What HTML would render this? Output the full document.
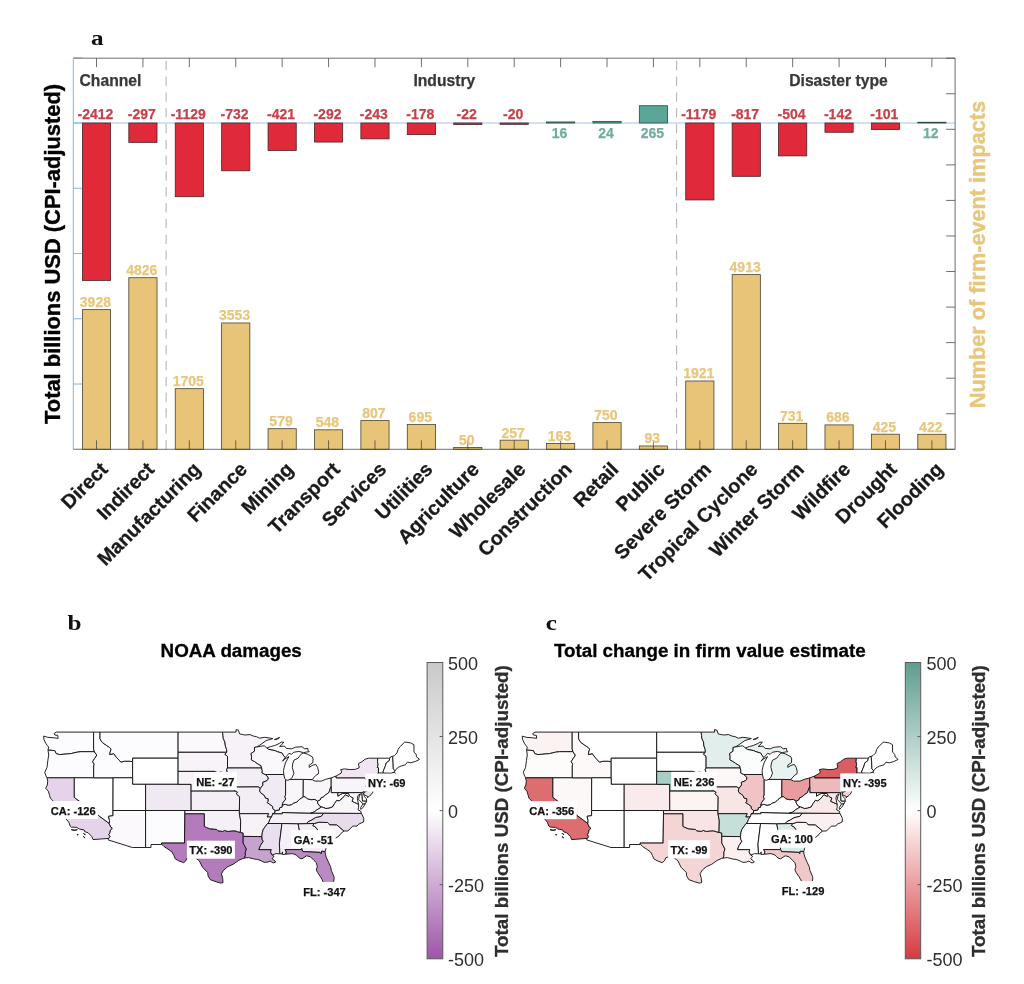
<!DOCTYPE html>
<html lang="en">
<head>
<meta charset="utf-8">
<title>Firm value impacts of disasters</title>
<style>
html,body{margin:0;padding:0;background:#fff;}
body{width:1024px;height:984px;overflow:hidden;font-family:"Liberation Sans",Arial,Helvetica,sans-serif;}
svg{display:block;}
svg text{font-family:"Liberation Sans",Arial,Helvetica,sans-serif;}
svg .pl text{font-family:"Liberation Serif","Times New Roman",serif;}
</style>
</head>
<body>
<svg width="1024" height="984" viewBox="0 0 1024 984">
<rect width="1024" height="984" fill="#fff"/>
<g id="panel-a">
<line x1="166.12" y1="449.3" x2="166.12" y2="58.2" stroke="#adadad" stroke-width="1" stroke-dasharray="9.3 6.5" stroke-dashoffset="0"/>
<line x1="676.64" y1="449.3" x2="676.64" y2="58.2" stroke="#adadad" stroke-width="1" stroke-dasharray="9.3 6.5" stroke-dashoffset="0"/>
<rect x="82.41" y="309.64" width="28.2" height="139.66" fill="#e8c478" stroke="#4a4230" stroke-width="0.8"/>
<rect x="128.82" y="277.71" width="28.2" height="171.59" fill="#e8c478" stroke="#4a4230" stroke-width="0.8"/>
<rect x="175.23" y="388.68" width="28.2" height="60.62" fill="#e8c478" stroke="#4a4230" stroke-width="0.8"/>
<rect x="221.64" y="322.97" width="28.2" height="126.33" fill="#e8c478" stroke="#4a4230" stroke-width="0.8"/>
<rect x="268.05" y="428.71" width="28.2" height="20.59" fill="#e8c478" stroke="#4a4230" stroke-width="0.8"/>
<rect x="314.46" y="429.82" width="28.2" height="19.48" fill="#e8c478" stroke="#4a4230" stroke-width="0.8"/>
<rect x="360.87" y="420.61" width="28.2" height="28.69" fill="#e8c478" stroke="#4a4230" stroke-width="0.8"/>
<rect x="407.28" y="424.59" width="28.2" height="24.71" fill="#e8c478" stroke="#4a4230" stroke-width="0.8"/>
<rect x="453.69" y="447.52" width="28.2" height="1.78" fill="#e8c478" stroke="#4a4230" stroke-width="0.8"/>
<rect x="500.1" y="440.16" width="28.2" height="9.14" fill="#e8c478" stroke="#4a4230" stroke-width="0.8"/>
<rect x="546.51" y="443.5" width="28.2" height="5.8" fill="#e8c478" stroke="#4a4230" stroke-width="0.8"/>
<rect x="592.92" y="422.63" width="28.2" height="26.67" fill="#e8c478" stroke="#4a4230" stroke-width="0.8"/>
<rect x="639.33" y="445.99" width="28.2" height="3.31" fill="#e8c478" stroke="#4a4230" stroke-width="0.8"/>
<rect x="685.74" y="381" width="28.2" height="68.3" fill="#e8c478" stroke="#4a4230" stroke-width="0.8"/>
<rect x="732.15" y="274.62" width="28.2" height="174.68" fill="#e8c478" stroke="#4a4230" stroke-width="0.8"/>
<rect x="778.56" y="423.31" width="28.2" height="25.99" fill="#e8c478" stroke="#4a4230" stroke-width="0.8"/>
<rect x="824.97" y="424.91" width="28.2" height="24.39" fill="#e8c478" stroke="#4a4230" stroke-width="0.8"/>
<rect x="871.38" y="434.19" width="28.2" height="15.11" fill="#e8c478" stroke="#4a4230" stroke-width="0.8"/>
<rect x="917.79" y="434.3" width="28.2" height="15" fill="#e8c478" stroke="#4a4230" stroke-width="0.8"/>
<line x1="73.3" y1="123" x2="955.1" y2="123" stroke="#a6c3e0" stroke-width="1"/>
<rect x="82.41" y="123" width="28.2" height="157.41" fill="#e02a3a" stroke="#4a2226" stroke-width="0.8"/>
<rect x="128.82" y="123" width="28.2" height="19.38" fill="#e02a3a" stroke="#4a2226" stroke-width="0.8"/>
<rect x="175.23" y="123" width="28.2" height="73.68" fill="#e02a3a" stroke="#4a2226" stroke-width="0.8"/>
<rect x="221.64" y="123" width="28.2" height="47.77" fill="#e02a3a" stroke="#4a2226" stroke-width="0.8"/>
<rect x="268.05" y="123" width="28.2" height="27.47" fill="#e02a3a" stroke="#4a2226" stroke-width="0.8"/>
<rect x="314.46" y="123" width="28.2" height="19.06" fill="#e02a3a" stroke="#4a2226" stroke-width="0.8"/>
<rect x="360.87" y="123" width="28.2" height="15.86" fill="#e02a3a" stroke="#4a2226" stroke-width="0.8"/>
<rect x="407.28" y="123" width="28.2" height="11.62" fill="#e02a3a" stroke="#4a2226" stroke-width="0.8"/>
<rect x="453.69" y="123" width="28.2" height="1.44" fill="#e02a3a" stroke="#4a2226" stroke-width="0.8"/>
<rect x="500.1" y="123" width="28.2" height="1.31" fill="#e02a3a" stroke="#4a2226" stroke-width="0.8"/>
<rect x="546.51" y="121.96" width="28.2" height="1.04" fill="#5aa797" stroke="#2f4a45" stroke-width="0.8"/>
<rect x="592.92" y="121.43" width="28.2" height="1.57" fill="#5aa797" stroke="#2f4a45" stroke-width="0.8"/>
<rect x="639.33" y="105.71" width="28.2" height="17.29" fill="#5aa797" stroke="#2f4a45" stroke-width="0.8"/>
<rect x="685.74" y="123" width="28.2" height="76.94" fill="#e02a3a" stroke="#4a2226" stroke-width="0.8"/>
<rect x="732.15" y="123" width="28.2" height="53.32" fill="#e02a3a" stroke="#4a2226" stroke-width="0.8"/>
<rect x="778.56" y="123" width="28.2" height="32.89" fill="#e02a3a" stroke="#4a2226" stroke-width="0.8"/>
<rect x="824.97" y="123" width="28.2" height="9.27" fill="#e02a3a" stroke="#4a2226" stroke-width="0.8"/>
<rect x="871.38" y="123" width="28.2" height="6.59" fill="#e02a3a" stroke="#4a2226" stroke-width="0.8"/>
<rect x="917.79" y="122.22" width="28.2" height="0.78" fill="#5aa797" stroke="#2f4a45" stroke-width="0.8"/>
<g stroke="#404040" stroke-width="0.75" fill="none">
<path d="M73.3 58.2H955.1V449.3H73.3"/>
<path d="M96.51 58.2v9M96.51 449.3v-9M142.92 58.2v9M142.92 449.3v-9M189.33 58.2v9M189.33 449.3v-9M235.74 58.2v9M235.74 449.3v-9M282.15 58.2v9M282.15 449.3v-9M328.56 58.2v9M328.56 449.3v-9M374.97 58.2v9M374.97 449.3v-9M421.38 58.2v9M421.38 449.3v-9M467.79 58.2v9M467.79 449.3v-9M514.2 58.2v9M514.2 449.3v-9M560.61 58.2v9M560.61 449.3v-9M607.02 58.2v9M607.02 449.3v-9M653.43 58.2v9M653.43 449.3v-9M699.84 58.2v9M699.84 449.3v-9M746.25 58.2v9M746.25 449.3v-9M792.66 58.2v9M792.66 449.3v-9M839.07 58.2v9M839.07 449.3v-9M885.48 58.2v9M885.48 449.3v-9M931.89 58.2v9M931.89 449.3v-9M955.1 449.3h-9M955.1 413.75h-9M955.1 378.19h-9M955.1 342.64h-9M955.1 307.08h-9M955.1 271.53h-9M955.1 235.97h-9M955.1 200.42h-9M955.1 164.86h-9M955.1 129.31h-9M955.1 93.75h-9M955.1 58.2h-9"/>
</g>
<g stroke="#6f9fd8" stroke-width="0.8" fill="none">
<path d="M73.3 58.2V449.3M73.3 449.3h9M73.3 384.04h9M73.3 318.78h9M73.3 253.52h9M73.3 188.26h9M73.3 123h9M73.3 57.74h9"/>
</g>
<g font-size="14" font-weight="bold" text-anchor="middle" stroke-width="0.25">
<text x="95.41" y="119" fill="#c8404a" stroke="#c8404a">-2412</text>
<text x="141.82" y="119" fill="#c8404a" stroke="#c8404a">-297</text>
<text x="188.23" y="119" fill="#c8404a" stroke="#c8404a">-1129</text>
<text x="234.64" y="119" fill="#c8404a" stroke="#c8404a">-732</text>
<text x="281.05" y="119" fill="#c8404a" stroke="#c8404a">-421</text>
<text x="327.46" y="119" fill="#c8404a" stroke="#c8404a">-292</text>
<text x="373.87" y="119" fill="#c8404a" stroke="#c8404a">-243</text>
<text x="420.28" y="119" fill="#c8404a" stroke="#c8404a">-178</text>
<text x="466.69" y="119" fill="#c8404a" stroke="#c8404a">-22</text>
<text x="513.1" y="119" fill="#c8404a" stroke="#c8404a">-20</text>
<text x="559.51" y="137.8" fill="#6fae9f" stroke="#6fae9f">16</text>
<text x="605.92" y="137.8" fill="#6fae9f" stroke="#6fae9f">24</text>
<text x="652.33" y="137.8" fill="#6fae9f" stroke="#6fae9f">265</text>
<text x="698.74" y="119" fill="#c8404a" stroke="#c8404a">-1179</text>
<text x="745.15" y="119" fill="#c8404a" stroke="#c8404a">-817</text>
<text x="791.56" y="119" fill="#c8404a" stroke="#c8404a">-504</text>
<text x="837.97" y="119" fill="#c8404a" stroke="#c8404a">-142</text>
<text x="884.38" y="119" fill="#c8404a" stroke="#c8404a">-101</text>
<text x="930.79" y="137.8" fill="#6fae9f" stroke="#6fae9f">12</text>
<text x="95.41" y="307.04" fill="#e8c67c" stroke="#e8c67c">3928</text>
<text x="141.82" y="275.11" fill="#e8c67c" stroke="#e8c67c">4826</text>
<text x="188.23" y="386.08" fill="#e8c67c" stroke="#e8c67c">1705</text>
<text x="234.64" y="320.37" fill="#e8c67c" stroke="#e8c67c">3553</text>
<text x="281.05" y="426.11" fill="#e8c67c" stroke="#e8c67c">579</text>
<text x="327.46" y="427.22" fill="#e8c67c" stroke="#e8c67c">548</text>
<text x="373.87" y="418.01" fill="#e8c67c" stroke="#e8c67c">807</text>
<text x="420.28" y="421.99" fill="#e8c67c" stroke="#e8c67c">695</text>
<text x="466.69" y="444.92" fill="#e8c67c" stroke="#e8c67c">50</text>
<text x="513.1" y="437.56" fill="#e8c67c" stroke="#e8c67c">257</text>
<text x="559.51" y="440.9" fill="#e8c67c" stroke="#e8c67c">163</text>
<text x="605.92" y="420.03" fill="#e8c67c" stroke="#e8c67c">750</text>
<text x="652.33" y="443.39" fill="#e8c67c" stroke="#e8c67c">93</text>
<text x="698.74" y="378.4" fill="#e8c67c" stroke="#e8c67c">1921</text>
<text x="745.15" y="272.02" fill="#e8c67c" stroke="#e8c67c">4913</text>
<text x="791.56" y="420.71" fill="#e8c67c" stroke="#e8c67c">731</text>
<text x="837.97" y="422.31" fill="#e8c67c" stroke="#e8c67c">686</text>
<text x="884.38" y="431.59" fill="#e8c67c" stroke="#e8c67c">425</text>
<text x="930.79" y="431.7" fill="#e8c67c" stroke="#e8c67c">422</text>
</g>
<g font-size="15.7" font-weight="bold" fill="#383838" stroke="#383838" stroke-width="0.25">
<text x="79.5" y="86">Channel</text>
<text x="413.4" y="86">Industry</text>
<text x="789.2" y="86">Disaster type</text>
</g>
<g font-size="19.8" font-weight="bold" fill="#1a1a1a" stroke="#1a1a1a" stroke-width="0.3" text-anchor="end">
<text transform="translate(109.01 470.5) rotate(-45)">Direct</text>
<text transform="translate(155.42 470.5) rotate(-45)">Indirect</text>
<text transform="translate(201.83 470.5) rotate(-45)">Manufacturing</text>
<text transform="translate(248.24 470.5) rotate(-45)">Finance</text>
<text transform="translate(294.65 470.5) rotate(-45)">Mining</text>
<text transform="translate(341.06 470.5) rotate(-45)">Transport</text>
<text transform="translate(387.47 470.5) rotate(-45)">Services</text>
<text transform="translate(433.88 470.5) rotate(-45)">Utilities</text>
<text transform="translate(480.29 470.5) rotate(-45)">Agriculture</text>
<text transform="translate(526.7 470.5) rotate(-45)">Wholesale</text>
<text transform="translate(573.11 470.5) rotate(-45)">Construction</text>
<text transform="translate(619.52 470.5) rotate(-45)">Retail</text>
<text transform="translate(665.93 470.5) rotate(-45)">Public</text>
<text transform="translate(712.34 470.5) rotate(-45)">Severe Storm</text>
<text transform="translate(758.75 470.5) rotate(-45)">Tropical Cyclone</text>
<text transform="translate(805.16 470.5) rotate(-45)">Winter Storm</text>
<text transform="translate(851.57 470.5) rotate(-45)">Wildfire</text>
<text transform="translate(897.98 470.5) rotate(-45)">Drought</text>
<text transform="translate(944.39 470.5) rotate(-45)">Flooding</text>
</g>
<text transform="translate(59.6 253.9) rotate(-90)" font-size="21.9" font-weight="bold" fill="#000" stroke="#000" stroke-width="0.35" text-anchor="middle">Total billions USD (CPI-adjusted)</text>
<text transform="translate(985.4 254.6) rotate(-90)" font-size="21.7" font-weight="bold" fill="#e8c67c" stroke="#e8c67c" stroke-width="0.35" text-anchor="middle">Number of firm-event impacts</text>
</g>
<g class="pl" font-weight="bold" font-size="21" fill="#111">
<text transform="translate(91 45.1) scale(1.2 1)">a</text>
<text transform="translate(67.4 629.5) scale(1.2 1)">b</text>
<text transform="translate(545.8 629.5) scale(1.2 1)">c</text>
</g>
<g font-size="18.8" font-weight="bold" fill="#000" stroke="#000" stroke-width="0.3" text-anchor="middle">
<text x="231.2" y="657">NOAA damages</text>
<text x="709.8" y="657">Total change in firm value estimate</text>
</g>
<defs><linearGradient id="gb" x1="0" y1="0" x2="0" y2="1">
<stop offset="0" stop-color="#c9c9c9"/>
<stop offset="0.5" stop-color="#ffffff"/>
<stop offset="1" stop-color="#9d55a8"/>
</linearGradient></defs>
<rect x="427.1" y="662.5" width="15.7" height="296.3" fill="url(#gb)" stroke="#5a5a5a" stroke-width="1"/>
<path d="M442.8 736.58h-3.2M442.8 810.65h-3.2M442.8 884.72h-3.2" stroke="#5a5a5a" stroke-width="1" fill="none"/>
<g font-size="18" fill="#2e2e2e">
<text x="448" y="669.9">500</text>
<text x="448" y="743.98">250</text>
<text x="448" y="818.05">0</text>
<text x="448" y="892.12">-250</text>
<text x="448" y="966.2">-500</text>
</g>
<text transform="translate(508 811.05) rotate(-90)" font-size="18.8" font-weight="bold" fill="#2e2e2e" stroke="#2e2e2e" stroke-width="0.3" text-anchor="middle">Total billions USD (CPI-adjusted)</text>
<defs><linearGradient id="gc" x1="0" y1="0" x2="0" y2="1">
<stop offset="0" stop-color="#5f9d8f"/>
<stop offset="0.5" stop-color="#ffffff"/>
<stop offset="1" stop-color="#d43b40"/>
</linearGradient></defs>
<rect x="905.3" y="662.5" width="15.4" height="296.3" fill="url(#gc)" stroke="#5a5a5a" stroke-width="1"/>
<path d="M920.7 736.58h-3.2M920.7 810.65h-3.2M920.7 884.72h-3.2" stroke="#5a5a5a" stroke-width="1" fill="none"/>
<g font-size="18" fill="#2e2e2e">
<text x="926.6" y="669.9">500</text>
<text x="926.6" y="743.98">250</text>
<text x="926.6" y="818.05">0</text>
<text x="926.6" y="892.12">-250</text>
<text x="926.6" y="966.2">-500</text>
</g>
<text transform="translate(985 811.05) rotate(-90)" font-size="18.8" font-weight="bold" fill="#2e2e2e" stroke="#2e2e2e" stroke-width="0.3" text-anchor="middle">Total billions USD (CPI-adjusted)</text>
<g id="map-b" stroke="#111" stroke-width="0.92" stroke-linejoin="round">
<path d="M93.6 732.1L56.4 732.1L54.2 733.4L54.8 735L57.8 735.4L58.1 738.3L53.9 737.8L47.7 737.3L43.6 736.1L43.9 739.3L45.7 743.2L47.3 745.5L48.7 747.1L48 750.1L52.2 750.4L54.8 750.7L56.1 753.6L59.4 754.6L66.5 754L71.1 753.6L76.9 752.2L80.9 751.7L94.4 751.7L93.6 748.9Z" fill="#fcfbfd"/>
<path d="M94.4 751.7L80.9 751.7L76.9 752.2L71.1 753.6L66.5 754L59.4 754.6L56.1 753.6L54.8 750.7L52.2 750.4L48 750.1L48.7 755L47.8 760.8L47 767.4L44.7 772.3L46 775.9L47 777.8L74.3 777.8L93.7 777.8L93.7 765.9L94.2 764.1L93.5 763.1L92.6 761.8L93.5 760.2L94.8 758.2L95.8 756.9L96.8 755L95.2 753Z" fill="#fcfbfd"/>
<path d="M74.3 777.8L47 777.8L47.7 781.1L47.3 785L45.7 788.3L48.3 791.2L49.6 795.4L50.3 798.1L54.8 802.6L58.1 805.2L58.7 809.2L62 810.8L61.7 813.1L65.9 818.9L68.8 822.2L70.2 826.1L71.4 827.1L76.9 827.4L79.5 829.1L84.1 829.9L84.8 831.7L88 832.7L91.9 836.6L93 839.6L108.7 838.4L110.1 836.6L108.8 834.6L110 832.7L110.4 830.1L112.4 828.3L110.8 827.1L109.7 824.8L109.3 823.5L74.3 797.4Z" fill="#e5d4e9"/>
<path d="M93.7 777.8L74.3 777.8L74.3 797.4L109.3 823.5L109.5 820.3L108.5 816.3L113 815.7L113 810.5L113.1 777.8Z" fill="#ffffff"/>
<path d="M100 732.1L93.6 732.1L93.6 748.9L94.4 751.7L95.2 753L96.8 755L95.8 756.9L94.8 758.2L93.5 760.2L92.6 761.8L93.5 763.1L94.2 764.1L93.7 765.9L93.7 777.8L113.1 777.8L132.6 777.8L132.6 761.7L129.6 761.2L124.4 761.2L120.9 762.1L119.2 760.2L116.6 757.6L113.7 753.6L109.8 754.6L110.1 752.3L111.1 749.1L109.5 747.4L106.2 745.2L102.2 742.4L100 738.8Z" fill="#fcfbfd"/>
<path d="M178.1 732.1L100 732.1L100 738.8L102.2 742.4L106.2 745.2L109.5 747.4L111.1 749.1L110.1 752.3L109.8 754.6L113.7 753.6L116.6 757.6L119.2 760.2L120.9 762.1L124.4 761.2L129.6 761.2L132.6 761.7L132.6 758.2L178.1 758.2L178.1 752.1Z" fill="#fcfbfd"/>
<path d="M178.1 758.2L132.6 758.2L132.6 761.7L132.6 777.8L132.6 784.3L145.6 784.3L178.1 784.3L178.1 771.3Z" fill="#ffffff"/>
<path d="M113.1 777.8L132.6 777.8L132.6 784.3L145.6 784.3L145.6 810.5L113 810.5Z" fill="#ffffff"/>
<path d="M145.6 784.3L178.1 784.3L191.1 784.3L191.1 790.9L191.2 810.5L184.9 810.5L145.6 810.5Z" fill="#f0e8f3"/>
<path d="M113 810.5L145.6 810.5L145.6 847.5L132.4 847.5L108.1 839.9L108.7 838.4L110.1 836.6L108.8 834.6L110 832.7L110.4 830.1L112.4 828.3L110.8 827.1L109.7 824.8L109.3 823.5L109.5 820.3L108.5 816.3L113 815.7Z" fill="#fbf9fc"/>
<path d="M145.6 810.5L184.9 810.5L184.9 813.7L184.5 843.1L161.4 843.1L162 844.5L151 844.5L151 847.5L145.6 847.5Z" fill="#fcfbfd"/>
<path d="M184.9 813.7L204.4 813.7L204.4 826.4L206.4 827.4L209.6 828.7L213.6 829.1L216.8 829.4L218.1 830.8L222.7 831.4L224.6 830.4L227.9 831.5L231.8 830.9L235 830.8L237.6 831.7L240.4 832.4L243.2 833L243.2 836.4L243.2 843.1L244.6 845.7L246.4 849L245.3 852.3L245.4 855.5L244.5 858.1L242.8 858.5L238.6 860.4L236.3 862L233.1 864.3L227.9 866.6L223.6 870.2L221.4 873.8L222.7 878.4L223 882.6L220.7 883.1L216.2 881.8L210.3 879.7L208 875.8L207.7 872.5L202.5 867.3L199.2 860.7L195.3 857.7L189.5 857L187.2 857.8L185.9 860.7L183.6 862.7L178.4 860.7L175.2 858.8L173.9 855.5L171.9 851.9L168 849.1L164.1 846.6L162 844.5L161.4 843.1L184.5 843.1Z" fill="#b37bbb"/>
<path d="M184.9 810.5L191.2 810.5L239.4 810.5L239.4 813.7L240.7 820.9L240.4 832.4L237.6 831.7L235 830.8L231.8 830.9L227.9 831.5L224.6 830.4L222.7 831.4L218.1 830.8L216.8 829.4L213.6 829.1L209.6 828.7L206.4 827.4L204.4 826.4L204.4 813.7L184.9 813.7Z" fill="#f5f0f7"/>
<path d="M191.1 790.9L235 790.9L237.6 792.2L236.3 793.8L239.6 796.7L239.4 810.5L191.2 810.5Z" fill="#f4eff6"/>
<path d="M178.1 771.3L214.2 771.3L217.5 772.6L221.4 772.1L224.6 773.1L227.5 774.5L228.5 777.2L229.8 780.4L231.1 783L231.4 785.6L232 787.1L233.7 789.2L235 790.9L191.1 790.9L191.1 784.3L178.1 784.3Z" fill="#f7f3f8"/>
<path d="M178.1 752.1L226.8 752.1L224.9 754.3L227.5 756.3L227.5 768L226.6 769.6L227.2 771.9L227.5 774.5L224.6 773.1L221.4 772.1L217.5 772.6L214.2 771.3L178.1 771.3L178.1 758.2Z" fill="#f7f3f8"/>
<path d="M222.5 732.1L178.1 732.1L178.1 752.1L226.8 752.1L226.6 749.4L225.3 745.8L224.9 741.9L223.3 738.6L223 735.4Z" fill="#fbf9fc"/>
<path d="M272.7 738.6L269.5 738L264.3 737.3L259.7 738.2L256.5 736.7L253.2 736L250 734.6L244.8 735L239.6 733.9L238.3 730.1L236 729.6L236 732.1L222.5 732.1L223 735.4L223.3 738.6L224.9 741.9L225.3 745.8L226.6 749.4L226.8 752.1L224.9 754.3L227.5 756.3L227.5 768L261.6 768L261 765.7L257.1 763.4L254.5 761.5L251.4 759.9L251.6 756.3L251 753.6L254.5 751.2L254.5 747.4L256.4 747.1L259.7 745.2L266.2 740.6Z" fill="#f6f2f8"/>
<path d="M227.5 768L261.6 768L262.3 770.6L262 772.9L265.3 774.5L268.2 777.2L268.2 779.1L266.9 780.7L262.7 782.4L263 785L260.3 788.4L258.2 786.9L232 787.1L231.4 785.6L231.1 783L229.8 780.4L228.5 777.2L227.5 774.5L227.2 771.9L226.6 769.6Z" fill="#f3edf5"/>
<path d="M232 787.1L258.2 786.9L260.3 788.4L259.7 790.9L260.4 792.5L264.3 795.4L265.6 798.1L268.2 798.7L268.2 801.3L267.2 802.6L269.8 804.3L272.7 806.5L272.7 808.5L275.2 810.6L274.7 813.1L272.7 813.7L272.1 815.7L271.4 817L267.1 817L268.5 813.7L239.4 813.7L239.4 810.5L239.6 796.7L236.3 793.8L237.6 792.2L235 790.9L233.7 789.2Z" fill="#f3edf5"/>
<path d="M239.4 813.7L268.5 813.7L267.1 817L271.4 817L269.8 819.6L268.8 822.5L267.5 823.5L265.6 826.1L263.3 829.4L262.3 832.7L261.9 836.6L243.2 836.4L243.2 833L240.4 832.4L240.7 820.9Z" fill="#f6f2f8"/>
<path d="M243.2 836.4L261.9 836.6L262.3 839.8L263.3 841.2L260.4 845.7L258.9 849.6L271.3 849.6L270.5 851.9L272.1 855L274 856.2L273.1 857.5L272.1 858.8L274.7 860.7L275.7 862L273.4 863L270.1 861.1L268.2 862L264.3 862.4L261 860.7L257.5 859.4L254.5 859.1L248.7 857.6L244.5 858.1L245.4 855.5L245.3 852.3L246.4 849L244.6 845.7L243.2 843.1Z" fill="#c6a3ce"/>
<path d="M267.5 823.5L281.2 823.5L281.9 824.2L279.4 843.8L279.9 853.8L276 853.6L272.1 855L270.5 851.9L271.3 849.6L258.9 849.6L260.4 845.7L263.3 841.2L262.3 839.8L261.9 836.6L262.3 832.7L263.3 829.4L265.6 826.1Z" fill="#eadfee"/>
<path d="M281.2 823.5L298.1 823.7L300.8 837.4L302 841.2L301.7 846L302 849.6L285.1 849.6L286.4 851.9L285.8 854.2L282.5 854.5L282.5 851.9L281.9 853.9L279.9 853.8L279.4 843.8L281.9 824.2Z" fill="#f5f0f7"/>
<path d="M298.1 823.7L306.4 823.6L314.3 823.5L312.8 825.5L315.7 827.1L318 830.4L321.9 833.3L324.8 836.6L326.7 840.5L328.7 842.8L327.1 845.1L326.1 848.3L325.1 851.5L321.5 851.3L321.2 853.8L320.2 852.4L302.9 851.6L302 849.6L301.7 846L302 841.2L300.8 837.4Z" fill="#f3edf5"/>
<path d="M285.8 854.2L286.4 851.9L285.1 849.6L302 849.6L302.9 851.6L320.2 852.4L321.2 853.8L321.5 851.3L325.1 851.5L325.4 854.2L326.4 857.5L328.7 862.7L330.6 866.6L331.3 870.5L333.9 876.4L334.2 878.4L333.2 883.9L331.9 887.5L328.7 887.8L326.7 886.9L323.5 882.9L322.2 879.7L320.2 876.4L317.6 872.5L316.3 869.9L317.3 866.6L316.3 862.7L313.7 860.1L310.5 856.8L306.6 855.8L302 858.8L299.4 858.1L296.2 854.9L292.3 853.6Z" fill="#ba8ac3"/>
<path d="M314.3 823.5L318.9 822.2L327.7 822.5L328.7 823.5L329.5 824.7L336.7 824.8L344 831L341.1 833.3L339.1 835.9L335.2 838.5L331.6 840.5L328.7 842.8L326.7 840.5L324.8 836.6L321.9 833.3L318 830.4L315.7 827.1L312.8 825.5Z" fill="#f7f3f8"/>
<path d="M323.6 813.1L361.4 813.4L363.8 818.3L363.6 822L358.6 824.2L357 826.1L352.8 826.1L347.9 831L344 831L336.7 824.8L329.5 824.7L328.7 823.5L327.7 822.5L318.9 822.2L314.3 823.5L306.4 823.6L308.2 821.6L311.8 819.8L315.4 817.6L317.6 817L321.2 816.3Z" fill="#e8dcec"/>
<path d="M272.7 813.7L282.2 813.7L282 812.5L310.6 813.1L323.6 813.1L321.2 816.3L317.6 817L315.4 817.6L311.8 819.8L308.2 821.6L306.4 823.6L298.1 823.7L281.2 823.5L267.5 823.5L268.8 822.5L269.8 819.6L271.4 817L272.1 815.7Z" fill="#f5f0f7"/>
<path d="M275.2 810.6L279.3 810L279.6 807.8L281.9 807.2L282.2 805.2L285.1 804.3L288.4 805.2L291.6 804.6L293.6 803L296.8 802.1L299.4 799.4L303.2 796.7L305.3 796.7L307.2 798.7L311.1 799.7L315 799.4L317.6 801.2L317.6 803L319.6 805.9L321.7 806.9L317 809.8L314.1 812.1L310.6 813.1L282 812.5L282.2 813.7L272.7 813.7L274.7 813.1Z" fill="#f9f6fa"/>
<path d="M265.3 774.5L283.8 774.5L284.8 778.5L285.6 779.8L285.6 795.1L284.8 796.7L285.8 799L283.2 802.3L282.2 805.2L281.9 807.2L279.6 807.8L279.3 810L275.2 810.6L272.7 808.5L272.7 806.5L269.8 804.3L267.2 802.6L268.2 801.3L268.2 798.7L265.6 798.1L264.3 795.4L260.4 792.5L259.7 790.9L260.3 788.4L263 785L262.7 782.4L266.9 780.7L268.2 779.1L268.2 777.2Z" fill="#f1eaf4"/>
<path d="M285.6 779.8L287.7 780.3L290.2 779.4L303.3 779.4L303.2 796.7L299.4 799.4L296.8 802.1L293.6 803L291.6 804.6L288.4 805.2L285.1 804.3L282.2 805.2L283.2 802.3L285.8 799L284.8 796.7L285.6 795.1Z" fill="#f9f6fa"/>
<path d="M303.3 779.4L312.1 779.6L315 781.1L317 781.1L321.5 781.1L325.4 779.4L331.2 777.9L331.2 786.7L330.3 788.3L329 792.5L325.4 795.1L323.2 797.1L321.2 797.7L320.2 800L317.6 801.2L315 799.4L311.1 799.7L307.2 798.7L305.3 796.7L303.2 796.7Z" fill="#f9f6fa"/>
<path d="M290.2 779.4L292.3 777.2L293.9 773.2L292.3 767.4L292.6 764.1L293.9 760.2L298.1 758.2L299.4 756.3L302 753.3L303.6 753L307.2 754L312.4 756.9L313.1 758.9L312.8 762.8L309.2 765.1L309.2 767.4L312.4 765.4L315.7 764.4L317.6 767.4L318.6 771.3L318.3 773.9L315.7 775.5L313.7 777.8L312.1 779.6L303.3 779.4Z" fill="#fbf9fc"/>
<path d="M285.1 757.6L283.8 755.9L281.9 753L277.3 751.7L275.3 750.7L268.7 749.4L266.8 748L270.8 746.5L274.7 745.5L279.3 743.5L281.2 742.2L283.8 742.1L281.2 745.2L279.6 746.5L284.5 746.1L286.4 748.4L291.6 748.8L295.5 747.2L302 746.7L304.6 748.8L307.9 748.4L307.9 750.1L309.2 751.7L306.6 752L303.6 752.7L298.8 751.4L293.6 752.3L291.6 754.3L289 753.3L287.1 755.6Z" fill="#fbf9fc"/>
<path d="M256.4 747.1L254.5 747.4L254.5 751.2L251 753.6L251.6 756.3L251.4 759.9L254.5 761.5L257.1 763.4L261 765.7L261.6 768L262.3 770.6L262 772.9L265.3 774.5L283.8 774.5L283.5 770.6L284.5 766.1L285.8 762.1L289 756.6L284.5 759.2L282.5 761.2L285.1 757.6L283.8 755.9L281.9 753L277.3 751.7L275.3 750.7L268.7 749.4L266.8 748L264.3 745.8L261.7 746.1Z" fill="#faf8fb"/>
<path d="M331.2 777.9L336.1 776L336.1 777.8L364.8 777.8L366.7 780.4L369 782L366.4 784.7L365.8 786.6L368.7 789.9L366.4 791.5L364.3 792.2L363.2 792L361.9 792.7L337.9 792.7L331.2 792.7L331.2 786.7Z" fill="#f8f5fa"/>
<path d="M331.2 786.7L331.2 792.7L337.9 792.7L337.9 796.1L340.4 794.5L342.6 793.4L345.6 793.5L348.5 793.5L349.4 795.3L348.7 796.6L345.3 794.8L342 798.7L339.1 801L336.8 800.3L334.5 803.6L332.6 806.9L329 808.2L325.8 808.5L321.7 806.9L319.6 805.9L317.6 803L317.6 801.2L320.2 800L321.2 797.7L323.2 797.1L325.4 795.1L329 792.5L330.3 788.3Z" fill="#ffffff"/>
<path d="M349.4 795.3L350.8 796.7L353.4 798.1L352.1 801.3L354.4 802.3L358.6 804.3L358.6 807.2L358 809.8L360.6 811.1L361.4 813.4L323.6 813.1L310.6 813.1L314.1 812.1L317 809.8L321.7 806.9L325.8 808.5L329 808.2L332.6 806.9L334.5 803.6L336.8 800.3L339.1 801L342 798.7L345.3 794.8L348.7 796.6Z" fill="#f9f6fa"/>
<path d="M362.8 803.9L365.4 803.7L363.2 807.2L360.9 809.5L360.6 807.8L362.5 804.6Z" fill="#ffffff"/>
<path d="M337.9 792.7L361.9 792.7L362.5 801L366.7 801L365.4 803.7L362.8 803.9L361.2 802L358.6 799.4L359.3 796.1L360.6 793.8L358 795.4L357.3 798.1L358 802L358.6 804.3L354.4 802.3L352.1 801.3L353.4 798.1L350.8 796.7L349.4 795.3L348.5 793.5L345.6 793.5L342.6 793.4L340.4 794.5L337.9 796.1Z" fill="#ffffff"/>
<path d="M361.9 792.7L363.2 792L364.3 792.2L363.5 794.1L364.5 796.7L366.4 798.7L366.7 801L362.5 801Z" fill="#ffffff"/>
<path d="M369 782L366.4 784.7L365.8 786.6L368.7 789.9L366.4 791.5L364.3 792.2L363.5 794.1L365.1 795.4L367.7 796.4L367.4 797.7L371 794.8L372.9 792.2L373.6 788.3L371.9 787.6L373.6 786.3L374.2 784.3Z" fill="#ece1f0"/>
<path d="M336.1 776L341.1 773.2L341.7 771.9L340.7 769.6L344.3 768.9L350.2 769.6L355.4 769.3L359.3 767.7L358.6 764.8L358.6 763.4L361.9 761.8L365.1 759.2L368.7 758.2L377.8 758.2L377.5 761.5L378.1 764.8L377.3 767.4L378.5 767.7L378.4 772.9L376.8 777.5L376.5 782.4L377 783L375.3 783.7L375.8 784.3L380.1 784.7L384.6 783.4L387.5 783.9L382.7 785.6L376.8 787L373.6 787.3L373.6 786.3L374.2 784.3L369 782L366.7 780.4L364.8 777.8L336.1 777.8Z" fill="#efe6f2"/>
<path d="M376.8 777.5L387.9 777.7L387.9 781.7L387.5 782.3L380.7 782.7L375.8 784.3L375.3 783.7L377 783L376.5 782.4Z" fill="#ffffff"/>
<path d="M387.9 777.7L390.6 777.7L390.6 778.5L391.8 779.8L392.3 781.1L390.5 781.4L387.5 782.3L387.9 781.7Z" fill="#ffffff"/>
<path d="M378.4 772.9L383.6 773L391.1 773.2L391.8 772.9L394.3 772.1L395.7 773.6L393.1 775.5L395 777.8L396.3 779.1L399.6 779.1L399.3 777.5L398.3 777.4L399.9 779.8L399.6 780.7L395.4 780.7L392.3 781.1L391.8 779.8L390.6 778.5L390.6 777.7L387.9 777.7L376.8 777.5Z" fill="#ffffff"/>
<path d="M377.8 758.2L389.8 758.2L389.2 760.8L386.3 762.8L385.3 766.1L384 769.3L383 771.9L383.6 773L378.4 772.9L378.5 767.7L377.3 767.4L378.1 764.8L377.5 761.5Z" fill="#ffffff"/>
<path d="M389.8 758.2L390.5 756.9L392.6 756.3L393.1 762.8L393.2 766.1L393.3 768.7L395 770.8L394.3 772.1L391.8 772.9L391.1 773.2L383.6 773L383 771.9L384 769.3L385.3 766.1L386.3 762.8L389.2 760.8Z" fill="#ffffff"/>
<path d="M392.6 756.3L394.4 755.6L397 753L398 749.7L399.6 747.1L404.6 742.2L406.1 742.2L410.7 742.9L413.9 744.7L414 752.3L416.2 754.3L416.5 756.9L419.1 758.9L419.4 759.5L415.2 761.5L410.7 762.8L407.4 762.1L405.4 764.8L400.9 766.1L398.3 767.4L396 769.3L395 770.8L393.3 768.7L393.2 766.1L393.1 762.8Z" fill="#ffffff"/>
<path d="M274.4 739.6L276.7 738.6L279.6 737.3L278.9 738.3L276 739.6Z" fill="#ffffff"/>
<path d="M71.4 829.7L74.3 830.1L77.3 829.7L74.3 830.5Z" fill="#ffffff"/>
<path d="M83.5 833.4L85.4 834.6L84.4 834.3Z" fill="#ffffff"/>
<path d="M83.5 836.4L85.1 837.9L84.1 837.6Z" fill="#ffffff"/>
<path d="M76.9 834.6L77.9 835.1L78.2 834.6Z" fill="#ffffff"/>
</g>
<g font-size="11.1" font-weight="bold" fill="#111" text-anchor="middle">
<rect x="48.3" y="801.1" width="49.8" height="18" fill="#fff"/>
<text x="73.2" y="814.8" stroke="#111" stroke-width="0.25">CA: -126</text>
<rect x="193.8" y="772" width="43" height="18" fill="#fff"/>
<text x="215.3" y="785.7" stroke="#111" stroke-width="0.25">NE: -27</text>
<rect x="186.9" y="840.7" width="48" height="18" fill="#fff"/>
<text x="210.9" y="854.4" stroke="#111" stroke-width="0.25">TX: -390</text>
<rect x="291.3" y="830.1" width="44.3" height="18" fill="#fff"/>
<text x="313.4" y="843.8" stroke="#111" stroke-width="0.25">GA: -51</text>
<rect x="300.8" y="881.9" width="47.4" height="18" fill="#fff"/>
<text x="324.5" y="895.6" stroke="#111" stroke-width="0.25">FL: -347</text>
<rect x="365.3" y="773.6" width="43" height="18" fill="#fff"/>
<text x="386.8" y="787.3" stroke="#111" stroke-width="0.25">NY: -69</text>
</g>
<g id="map-c" stroke="#111" stroke-width="0.92" stroke-linejoin="round">
<path d="M572.2 732.1L535 732.1L532.8 733.4L533.4 735L536.4 735.4L536.7 738.3L532.5 737.8L526.3 737.3L522.2 736.1L522.5 739.3L524.3 743.2L525.9 745.5L527.3 747.1L526.6 750.1L530.8 750.4L533.4 750.7L534.7 753.6L538 754.6L545.1 754L549.7 753.6L555.5 752.2L559.5 751.7L573 751.7L572.2 748.9Z" fill="#fbf2f2"/>
<path d="M573 751.7L559.5 751.7L555.5 752.2L549.7 753.6L545.1 754L538 754.6L534.7 753.6L533.4 750.7L530.8 750.4L526.6 750.1L527.3 755L526.4 760.8L525.6 767.4L523.3 772.3L524.6 775.9L525.6 777.8L552.9 777.8L572.3 777.8L572.3 765.9L572.8 764.1L572.1 763.1L571.2 761.8L572.1 760.2L573.4 758.2L574.4 756.9L575.4 755L573.8 753Z" fill="#fefbfb"/>
<path d="M552.9 777.8L525.6 777.8L526.3 781.1L525.9 785L524.3 788.3L526.9 791.2L528.2 795.4L528.9 798.1L533.4 802.6L536.7 805.2L537.3 809.2L540.6 810.8L540.3 813.1L544.5 818.9L547.4 822.2L548.8 826.1L550 827.1L555.5 827.4L558.1 829.1L562.7 829.9L563.4 831.7L566.6 832.7L570.5 836.6L571.6 839.6L587.3 838.4L588.7 836.6L587.4 834.6L588.6 832.7L589 830.1L591 828.3L589.4 827.1L588.3 824.8L587.9 823.5L552.9 797.4Z" fill="#dc6d70"/>
<path d="M572.3 777.8L552.9 777.8L552.9 797.4L587.9 823.5L588.1 820.3L587.1 816.3L591.6 815.7L591.6 810.5L591.7 777.8Z" fill="#fdf8f8"/>
<path d="M578.6 732.1L572.2 732.1L572.2 748.9L573 751.7L573.8 753L575.4 755L574.4 756.9L573.4 758.2L572.1 760.2L571.2 761.8L572.1 763.1L572.8 764.1L572.3 765.9L572.3 777.8L591.7 777.8L611.2 777.8L611.2 761.7L608.2 761.2L603 761.2L599.5 762.1L597.8 760.2L595.2 757.6L592.3 753.6L588.4 754.6L588.7 752.3L589.7 749.1L588.1 747.4L584.8 745.2L580.8 742.4L578.6 738.8Z" fill="#fdf9f9"/>
<path d="M656.7 732.1L578.6 732.1L578.6 738.8L580.8 742.4L584.8 745.2L588.1 747.4L589.7 749.1L588.7 752.3L588.4 754.6L592.3 753.6L595.2 757.6L597.8 760.2L599.5 762.1L603 761.2L608.2 761.2L611.2 761.7L611.2 758.2L656.7 758.2L656.7 752.1Z" fill="#ffffff"/>
<path d="M656.7 758.2L611.2 758.2L611.2 761.7L611.2 777.8L611.2 784.3L624.2 784.3L656.7 784.3L656.7 771.3Z" fill="#ffffff"/>
<path d="M591.7 777.8L611.2 777.8L611.2 784.3L624.2 784.3L624.2 810.5L591.6 810.5Z" fill="#ffffff"/>
<path d="M624.2 784.3L656.7 784.3L669.7 784.3L669.7 790.9L669.8 810.5L663.5 810.5L624.2 810.5Z" fill="#f9eaeb"/>
<path d="M591.6 810.5L624.2 810.5L624.2 847.5L611 847.5L586.7 839.9L587.3 838.4L588.7 836.6L587.4 834.6L588.6 832.7L589 830.1L591 828.3L589.4 827.1L588.3 824.8L587.9 823.5L588.1 820.3L587.1 816.3L591.6 815.7Z" fill="#ffffff"/>
<path d="M624.2 810.5L663.5 810.5L663.5 813.7L663.1 843.1L640 843.1L640.6 844.5L629.6 844.5L629.6 847.5L624.2 847.5Z" fill="#ffffff"/>
<path d="M663.5 813.7L683 813.7L683 826.4L685 827.4L688.2 828.7L692.2 829.1L695.4 829.4L696.7 830.8L701.3 831.4L703.2 830.4L706.5 831.5L710.4 830.9L713.6 830.8L716.2 831.7L719 832.4L721.8 833L721.8 836.4L721.8 843.1L723.2 845.7L725 849L723.9 852.3L724 855.5L723.1 858.1L721.4 858.5L717.2 860.4L714.9 862L711.7 864.3L706.5 866.6L702.2 870.2L700 873.8L701.3 878.4L701.6 882.6L699.3 883.1L694.8 881.8L688.9 879.7L686.6 875.8L686.3 872.5L681.1 867.3L677.8 860.7L673.9 857.7L668.1 857L665.8 857.8L664.5 860.7L662.2 862.7L657 860.7L653.8 858.8L652.5 855.5L650.5 851.9L646.6 849.1L642.7 846.6L640.6 844.5L640 843.1L663.1 843.1Z" fill="#f4d5d6"/>
<path d="M663.5 810.5L669.8 810.5L718 810.5L718 813.7L719.3 820.9L719 832.4L716.2 831.7L713.6 830.8L710.4 830.9L706.5 831.5L703.2 830.4L701.3 831.4L696.7 830.8L695.4 829.4L692.2 829.1L688.2 828.7L685 827.4L683 826.4L683 813.7L663.5 813.7Z" fill="#f8e4e5"/>
<path d="M669.7 790.9L713.6 790.9L716.2 792.2L714.9 793.8L718.2 796.7L718 810.5L669.8 810.5Z" fill="#fcf3f3"/>
<path d="M656.7 771.3L692.8 771.3L696.1 772.6L700 772.1L703.2 773.1L706.1 774.5L707.1 777.2L708.4 780.4L709.7 783L710 785.6L710.6 787.1L712.3 789.2L713.6 790.9L669.7 790.9L669.7 784.3L656.7 784.3Z" fill="#a9cec6"/>
<path d="M656.7 752.1L705.4 752.1L703.5 754.3L706.1 756.3L706.1 768L705.2 769.6L705.8 771.9L706.1 774.5L703.2 773.1L700 772.1L696.1 772.6L692.8 771.3L656.7 771.3L656.7 758.2Z" fill="#ffffff"/>
<path d="M701.1 732.1L656.7 732.1L656.7 752.1L705.4 752.1L705.2 749.4L703.9 745.8L703.5 741.9L701.9 738.6L701.6 735.4Z" fill="#ffffff"/>
<path d="M751.3 738.6L748.1 738L742.9 737.3L738.3 738.2L735.1 736.7L731.8 736L728.6 734.6L723.4 735L718.2 733.9L716.9 730.1L714.6 729.6L714.6 732.1L701.1 732.1L701.6 735.4L701.9 738.6L703.5 741.9L703.9 745.8L705.2 749.4L705.4 752.1L703.5 754.3L706.1 756.3L706.1 768L740.2 768L739.6 765.7L735.7 763.4L733.1 761.5L730 759.9L730.2 756.3L729.6 753.6L733.1 751.2L733.1 747.4L735 747.1L738.3 745.2L744.8 740.6Z" fill="#e1eeeb"/>
<path d="M706.1 768L740.2 768L740.9 770.6L740.6 772.9L743.9 774.5L746.8 777.2L746.8 779.1L745.5 780.7L741.3 782.4L741.6 785L738.9 788.4L736.8 786.9L710.6 787.1L710 785.6L709.7 783L708.4 780.4L707.1 777.2L706.1 774.5L705.8 771.9L705.2 769.6Z" fill="#fdf7f7"/>
<path d="M710.6 787.1L736.8 786.9L738.9 788.4L738.3 790.9L739 792.5L742.9 795.4L744.2 798.1L746.8 798.7L746.8 801.3L745.8 802.6L748.4 804.3L751.3 806.5L751.3 808.5L753.8 810.6L753.3 813.1L751.3 813.7L750.7 815.7L750 817L745.7 817L747.1 813.7L718 813.7L718 810.5L718.2 796.7L714.9 793.8L716.2 792.2L713.6 790.9L712.3 789.2Z" fill="#f8e5e6"/>
<path d="M718 813.7L747.1 813.7L745.7 817L750 817L748.4 819.6L747.4 822.5L746.1 823.5L744.2 826.1L741.9 829.4L740.9 832.7L740.5 836.6L721.8 836.4L721.8 833L719 832.4L719.3 820.9Z" fill="#c6dfd9"/>
<path d="M721.8 836.4L740.5 836.6L740.9 839.8L741.9 841.2L739 845.7L737.5 849.6L749.9 849.6L749.1 851.9L750.7 855L752.6 856.2L751.7 857.5L750.7 858.8L753.3 860.7L754.3 862L752 863L748.7 861.1L746.8 862L742.9 862.4L739.6 860.7L736.1 859.4L733.1 859.1L727.3 857.6L723.1 858.1L724 855.5L723.9 852.3L725 849L723.2 845.7L721.8 843.1Z" fill="#fbefef"/>
<path d="M746.1 823.5L759.8 823.5L760.5 824.2L758 843.8L758.5 853.8L754.6 853.6L750.7 855L749.1 851.9L749.9 849.6L737.5 849.6L739 845.7L741.9 841.2L740.9 839.8L740.5 836.6L740.9 832.7L741.9 829.4L744.2 826.1Z" fill="#ffffff"/>
<path d="M759.8 823.5L776.7 823.7L779.4 837.4L780.6 841.2L780.3 846L780.6 849.6L763.7 849.6L765 851.9L764.4 854.2L761.1 854.5L761.1 851.9L760.5 853.9L758.5 853.8L758 843.8L760.5 824.2Z" fill="#ffffff"/>
<path d="M776.7 823.7L785 823.6L792.9 823.5L791.4 825.5L794.3 827.1L796.6 830.4L800.5 833.3L803.4 836.6L805.3 840.5L807.3 842.8L805.7 845.1L804.7 848.3L803.7 851.5L800.1 851.3L799.8 853.8L798.8 852.4L781.5 851.6L780.6 849.6L780.3 846L780.6 841.2L779.4 837.4Z" fill="#dceae7"/>
<path d="M764.4 854.2L765 851.9L763.7 849.6L780.6 849.6L781.5 851.6L798.8 852.4L799.8 853.8L800.1 851.3L803.7 851.5L804 854.2L805 857.5L807.3 862.7L809.2 866.6L809.9 870.5L812.5 876.4L812.8 878.4L811.8 883.9L810.5 887.5L807.3 887.8L805.3 886.9L802.1 882.9L800.8 879.7L798.8 876.4L796.2 872.5L794.9 869.9L795.9 866.6L794.9 862.7L792.3 860.1L789.1 856.8L785.2 855.8L780.6 858.8L778 858.1L774.8 854.9L770.9 853.6Z" fill="#f1c8ca"/>
<path d="M792.9 823.5L797.5 822.2L806.3 822.5L807.3 823.5L808.1 824.7L815.3 824.8L822.6 831L819.7 833.3L817.7 835.9L813.8 838.5L810.2 840.5L807.3 842.8L805.3 840.5L803.4 836.6L800.5 833.3L796.6 830.4L794.3 827.1L791.4 825.5Z" fill="#fdf5f5"/>
<path d="M802.2 813.1L840 813.4L842.4 818.3L842.2 822L837.2 824.2L835.6 826.1L831.4 826.1L826.5 831L822.6 831L815.3 824.8L808.1 824.7L807.3 823.5L806.3 822.5L797.5 822.2L792.9 823.5L785 823.6L786.8 821.6L790.4 819.8L794 817.6L796.2 817L799.8 816.3Z" fill="#fbf0f1"/>
<path d="M751.3 813.7L760.8 813.7L760.6 812.5L789.2 813.1L802.2 813.1L799.8 816.3L796.2 817L794 817.6L790.4 819.8L786.8 821.6L785 823.6L776.7 823.7L759.8 823.5L746.1 823.5L747.4 822.5L748.4 819.6L750 817L750.7 815.7Z" fill="#ffffff"/>
<path d="M753.8 810.6L757.9 810L758.2 807.8L760.5 807.2L760.8 805.2L763.7 804.3L767 805.2L770.2 804.6L772.2 803L775.4 802.1L778 799.4L781.8 796.7L783.9 796.7L785.8 798.7L789.7 799.7L793.6 799.4L796.2 801.2L796.2 803L798.2 805.9L800.3 806.9L795.6 809.8L792.7 812.1L789.2 813.1L760.6 812.5L760.8 813.7L751.3 813.7L753.3 813.1Z" fill="#ffffff"/>
<path d="M743.9 774.5L762.4 774.5L763.4 778.5L764.2 779.8L764.2 795.1L763.4 796.7L764.4 799L761.8 802.3L760.8 805.2L760.5 807.2L758.2 807.8L757.9 810L753.8 810.6L751.3 808.5L751.3 806.5L748.4 804.3L745.8 802.6L746.8 801.3L746.8 798.7L744.2 798.1L742.9 795.4L739 792.5L738.3 790.9L738.9 788.4L741.6 785L741.3 782.4L745.5 780.7L746.8 779.1L746.8 777.2Z" fill="#f0c3c6"/>
<path d="M764.2 779.8L766.3 780.3L768.8 779.4L781.9 779.4L781.8 796.7L778 799.4L775.4 802.1L772.2 803L770.2 804.6L767 805.2L763.7 804.3L760.8 805.2L761.8 802.3L764.4 799L763.4 796.7L764.2 795.1Z" fill="#ffffff"/>
<path d="M781.9 779.4L790.7 779.6L793.6 781.1L795.6 781.1L800.1 781.1L804 779.4L809.8 777.9L809.8 786.7L808.9 788.3L807.6 792.5L804 795.1L801.8 797.1L799.8 797.7L798.8 800L796.2 801.2L793.6 799.4L789.7 799.7L785.8 798.7L783.9 796.7L781.8 796.7Z" fill="#e89c9e"/>
<path d="M768.8 779.4L770.9 777.2L772.5 773.2L770.9 767.4L771.2 764.1L772.5 760.2L776.7 758.2L778 756.3L780.6 753.3L782.2 753L785.8 754L791 756.9L791.7 758.9L791.4 762.8L787.8 765.1L787.8 767.4L791 765.4L794.3 764.4L796.2 767.4L797.2 771.3L796.9 773.9L794.3 775.5L792.3 777.8L790.7 779.6L781.9 779.4Z" fill="#e8f2f0"/>
<path d="M763.7 757.6L762.4 755.9L760.5 753L755.9 751.7L753.9 750.7L747.3 749.4L745.4 748L749.4 746.5L753.3 745.5L757.9 743.5L759.8 742.2L762.4 742.1L759.8 745.2L758.2 746.5L763.1 746.1L765 748.4L770.2 748.8L774.1 747.2L780.6 746.7L783.2 748.8L786.5 748.4L786.5 750.1L787.8 751.7L785.2 752L782.2 752.7L777.4 751.4L772.2 752.3L770.2 754.3L767.6 753.3L765.7 755.6Z" fill="#e8f2f0"/>
<path d="M735 747.1L733.1 747.4L733.1 751.2L729.6 753.6L730.2 756.3L730 759.9L733.1 761.5L735.7 763.4L739.6 765.7L740.2 768L740.9 770.6L740.6 772.9L743.9 774.5L762.4 774.5L762.1 770.6L763.1 766.1L764.4 762.1L767.6 756.6L763.1 759.2L761.1 761.2L763.7 757.6L762.4 755.9L760.5 753L755.9 751.7L753.9 750.7L747.3 749.4L745.4 748L742.9 745.8L740.3 746.1Z" fill="#fbfdfc"/>
<path d="M809.8 777.9L814.7 776L814.7 777.8L843.4 777.8L845.3 780.4L847.6 782L845 784.7L844.4 786.6L847.3 789.9L845 791.5L842.9 792.2L841.8 792L840.5 792.7L816.5 792.7L809.8 792.7L809.8 786.7Z" fill="#edb9bc"/>
<path d="M809.8 786.7L809.8 792.7L816.5 792.7L816.5 796.1L819 794.5L821.2 793.4L824.2 793.5L827.1 793.5L828 795.3L827.3 796.6L823.9 794.8L820.6 798.7L817.7 801L815.4 800.3L813.1 803.6L811.2 806.9L807.6 808.2L804.4 808.5L800.3 806.9L798.2 805.9L796.2 803L796.2 801.2L798.8 800L799.8 797.7L801.8 797.1L804 795.1L807.6 792.5L808.9 788.3Z" fill="#ffffff"/>
<path d="M828 795.3L829.4 796.7L832 798.1L830.7 801.3L833 802.3L837.2 804.3L837.2 807.2L836.6 809.8L839.2 811.1L840 813.4L802.2 813.1L789.2 813.1L792.7 812.1L795.6 809.8L800.3 806.9L804.4 808.5L807.6 808.2L811.2 806.9L813.1 803.6L815.4 800.3L817.7 801L820.6 798.7L823.9 794.8L827.3 796.6Z" fill="#f9e8e9"/>
<path d="M841.4 803.9L844 803.7L841.8 807.2L839.5 809.5L839.2 807.8L841.1 804.6Z" fill="#ffffff"/>
<path d="M816.5 792.7L840.5 792.7L841.1 801L845.3 801L844 803.7L841.4 803.9L839.8 802L837.2 799.4L837.9 796.1L839.2 793.8L836.6 795.4L835.9 798.1L836.6 802L837.2 804.3L833 802.3L830.7 801.3L832 798.1L829.4 796.7L828 795.3L827.1 793.5L824.2 793.5L821.2 793.4L819 794.5L816.5 796.1Z" fill="#f9e9ea"/>
<path d="M840.5 792.7L841.8 792L842.9 792.2L842.1 794.1L843.1 796.7L845 798.7L845.3 801L841.1 801Z" fill="#ffffff"/>
<path d="M847.6 782L845 784.7L844.4 786.6L847.3 789.9L845 791.5L842.9 792.2L842.1 794.1L843.7 795.4L846.3 796.4L846 797.7L849.6 794.8L851.5 792.2L852.2 788.3L850.5 787.6L852.2 786.3L852.8 784.3Z" fill="#f3d3d5"/>
<path d="M814.7 776L819.7 773.2L820.3 771.9L819.3 769.6L822.9 768.9L828.8 769.6L834 769.3L837.9 767.7L837.2 764.8L837.2 763.4L840.5 761.8L843.7 759.2L847.3 758.2L856.4 758.2L856.1 761.5L856.7 764.8L855.9 767.4L857.1 767.7L857 772.9L855.4 777.5L855.1 782.4L855.6 783L853.9 783.7L854.4 784.3L858.7 784.7L863.2 783.4L866.1 783.9L861.3 785.6L855.4 787L852.2 787.3L852.2 786.3L852.8 784.3L847.6 782L845.3 780.4L843.4 777.8L814.7 777.8Z" fill="#d95d62"/>
<path d="M855.4 777.5L866.5 777.7L866.5 781.7L866.1 782.3L859.3 782.7L854.4 784.3L853.9 783.7L855.6 783L855.1 782.4Z" fill="#f6dfe0"/>
<path d="M866.5 777.7L869.2 777.7L869.2 778.5L870.4 779.8L870.9 781.1L869.1 781.4L866.1 782.3L866.5 781.7Z" fill="#ffffff"/>
<path d="M857 772.9L862.2 773L869.7 773.2L870.4 772.9L872.9 772.1L874.3 773.6L871.7 775.5L873.6 777.8L874.9 779.1L878.2 779.1L877.9 777.5L876.9 777.4L878.5 779.8L878.2 780.7L874 780.7L870.9 781.1L870.4 779.8L869.2 778.5L869.2 777.7L866.5 777.7L855.4 777.5Z" fill="#f9e9ea"/>
<path d="M856.4 758.2L868.4 758.2L867.8 760.8L864.9 762.8L863.9 766.1L862.6 769.3L861.6 771.9L862.2 773L857 772.9L857.1 767.7L855.9 767.4L856.7 764.8L856.1 761.5Z" fill="#ffffff"/>
<path d="M868.4 758.2L869.1 756.9L871.2 756.3L871.7 762.8L871.8 766.1L871.9 768.7L873.6 770.8L872.9 772.1L870.4 772.9L869.7 773.2L862.2 773L861.6 771.9L862.6 769.3L863.9 766.1L864.9 762.8L867.8 760.8Z" fill="#ffffff"/>
<path d="M871.2 756.3L873 755.6L875.6 753L876.6 749.7L878.2 747.1L883.2 742.2L884.7 742.2L889.3 742.9L892.5 744.7L892.6 752.3L894.8 754.3L895.1 756.9L897.7 758.9L898 759.5L893.8 761.5L889.3 762.8L886 762.1L884 764.8L879.5 766.1L876.9 767.4L874.6 769.3L873.6 770.8L871.9 768.7L871.8 766.1L871.7 762.8Z" fill="#ffffff"/>
<path d="M753 739.6L755.3 738.6L758.2 737.3L757.5 738.3L754.6 739.6Z" fill="#ffffff"/>
<path d="M550 829.7L552.9 830.1L555.9 829.7L552.9 830.5Z" fill="#ffffff"/>
<path d="M562.1 833.4L564 834.6L563 834.3Z" fill="#ffffff"/>
<path d="M562.1 836.4L563.7 837.9L562.7 837.6Z" fill="#ffffff"/>
<path d="M555.5 834.6L556.5 835.1L556.8 834.6Z" fill="#ffffff"/>
</g>
<g font-size="11.1" font-weight="bold" fill="#111" text-anchor="middle">
<rect x="526.8" y="801.2" width="49.8" height="18" fill="#fff"/>
<text x="551.7" y="814.9" stroke="#111" stroke-width="0.25">CA: -356</text>
<rect x="671.2" y="771.9" width="45.5" height="18" fill="#fff"/>
<text x="694" y="785.6" stroke="#111" stroke-width="0.25">NE: 236</text>
<rect x="668.1" y="840.3" width="41.8" height="18" fill="#fff"/>
<text x="689" y="854" stroke="#111" stroke-width="0.25">TX: -99</text>
<rect x="768.6" y="829.7" width="46.7" height="18" fill="#fff"/>
<text x="792" y="843.4" stroke="#111" stroke-width="0.25">GA: 100</text>
<rect x="779.4" y="881.1" width="47.4" height="18" fill="#fff"/>
<text x="803.1" y="894.8" stroke="#111" stroke-width="0.25">FL: -129</text>
<rect x="840.2" y="773.4" width="49.2" height="18" fill="#fff"/>
<text x="864.8" y="787.1" stroke="#111" stroke-width="0.25">NY: -395</text>
</g>
</svg>
</body>
</html>
